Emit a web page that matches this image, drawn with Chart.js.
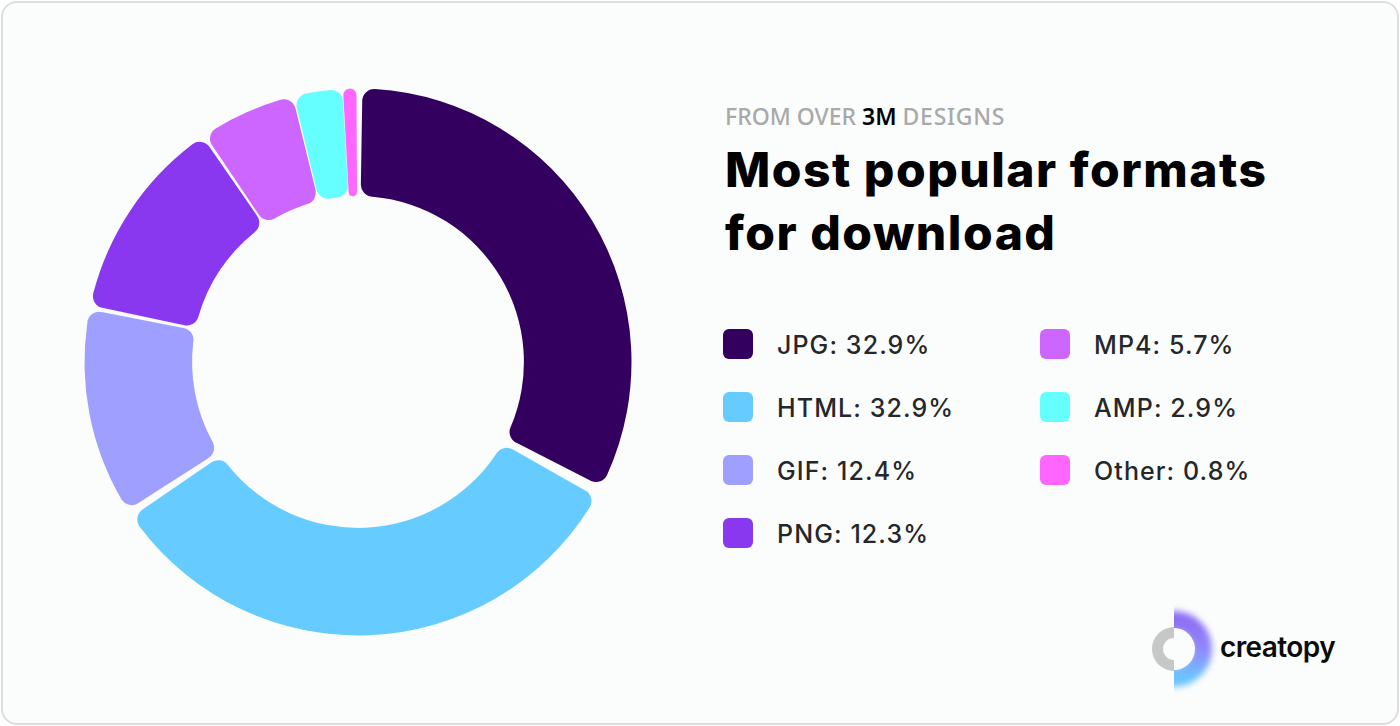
<!DOCTYPE html>
<html>
<head>
<meta charset="utf-8">
<title>Most popular formats for download</title>
<script src="https://cdn.jsdelivr.net/npm/chart.js@4"></script>
<style>
  html, body {margin:0; padding:0; background:#fff;}
  body {width:1400px; height:726px; position:relative; overflow:hidden; font-family:"Noto Sans", sans-serif;}
  .card {position:absolute; left:1px; top:1px; width:1394px; height:720px; background:#fbfdfc; border:2px solid #dcdedd; border-radius:16px;}
  .chart-box {position:absolute; left:78px; top:82px; width:560px; height:560px;}
  .sub {position:absolute; left:725px; top:100px; font:500 23px "Noto Sans", sans-serif; color:#a9a9a9; white-space:nowrap;}
  .sub b {color:#000; font-weight:600;}
  .sub em {font-style:normal; letter-spacing:.7px;}
  .title {position:absolute; left:725px; top:138px; font:800 48px/63px Inter, sans-serif; color:#000; white-space:nowrap; letter-spacing:1.5px;}
  .item {position:absolute; height:30px; white-space:nowrap; font:500 25px/32px Inter, sans-serif; color:#25272b;}
  .item i {position:absolute; left:0; top:0; width:30px; height:30px; border-radius:6px;}
  .item span {position:absolute; left:54px; top:0; letter-spacing:1.1px;}
  .logo {position:absolute; left:1140px; top:600px;}
  .brand {position:absolute; left:1220px; top:627px; font:600 28px/40px Inter, sans-serif; color:#0b0b0b; letter-spacing:-.6px;}
</style>
</head>
<body>
<div class="card"></div>
<div class="chart-box"><canvas id="formatChart"></canvas></div>
<div class="sub">FROM OVER <b>3M</b> <em>DESIGNS</em></div>
<div class="title">Most popular formats<br>for download</div>
<div id="legend"></div>
<svg class="logo" width="80" height="100" viewBox="0 0 80 100">
  <defs>
    <linearGradient id="arcGrad" x1="0" y1="0" x2="0" y2="1">
      <stop offset="0" stop-color="#8f6ff5"/>
      <stop offset=".55" stop-color="#8f8cfb"/>
      <stop offset="1" stop-color="#6cc3ff"/>
    </linearGradient>
    <filter id="soft" x="-40%" y="-40%" width="180%" height="180%"><feGaussianBlur stdDeviation="3"/></filter>
    <clipPath id="rightHalf"><rect x="34" y="0" width="46" height="100"/></clipPath>
  </defs>
  <g clip-path="url(#rightHalf)">
    <circle cx="34" cy="49" r="28" fill="none" stroke="url(#arcGrad)" stroke-width="20" filter="url(#soft)"/>
    <circle cx="34" cy="49" r="21" fill="#fbfdfc"/>
  </g>
  <path d="M34 27 A22 22 0 0 0 34 71 L34 60 A11 11 0 0 1 34 38 Z" fill="#c6c8c7"/>
</svg>
<div class="brand">creatopy</div>

<script>
const categories = ["JPG", "HTML", "GIF", "PNG", "MP4", "AMP", "Other"];
const shares = [32.9, 32.9, 12.4, 12.3, 5.7, 2.9, 0.8];
const colors = ["#33005f", "#66ccff", "#9f9fff", "#8a38ef", "#cc66ff", "#66ffff", "#ff66ff"];
const legendX = [723, 723, 723, 723, 1040, 1040, 1040];
const legendY = [329, 392, 455, 518, 329, 392, 455];

const legend = document.getElementById("legend");
categories.forEach(function (name, i) {
  const row = document.createElement("div");
  row.className = "item";
  row.style.left = legendX[i] + "px";
  row.style.top = legendY[i] + "px";
  row.innerHTML = '<i style="background:' + colors[i] + '"></i><span>' + name + ": " + shares[i].toFixed(1) + "%</span>";
  legend.appendChild(row);
});

new Chart(document.getElementById("formatChart"), {
  type: "doughnut",
  data: {
    labels: categories,
    datasets: [{data: shares, backgroundColor: colors, borderWidth: 0, borderRadius: 12, spacing: 9}]
  },
  options: {
    responsive: true,
    maintainAspectRatio: false,
    animation: false,
    cutout: "60%",
    radius: 269,
    rotation: -0.3,
    plugins: {legend: {display: false}, tooltip: {enabled: false}}
  }
});
</script>
</body>
</html>
